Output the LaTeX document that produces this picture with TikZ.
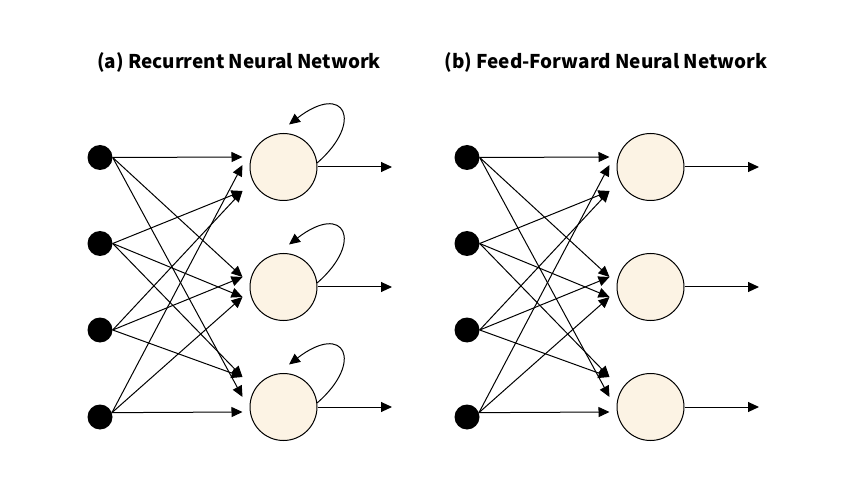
\documentclass[tikz,border=0pt]{standalone}
\usepackage{fontspec}
\setmainfont{Noto Sans CJK SC}
\usetikzlibrary{arrows.meta}
\definecolor{cream}{HTML}{FCF3E4}

\begin{document}
\begin{tikzpicture}[x=1bp, y=-1bp,
    inp/.style={circle, fill=black, minimum size=25bp, inner sep=0pt},
    hid/.style={circle, draw=black, fill=cream, line width=1bp, minimum size=67bp, inner sep=0pt},
    arr/.style={-{Triangle[length=11bp, width=10bp]}, line width=1bp},
    ttl/.style={font=\bfseries\fontsize{19}{22}\selectfont}]

    \useasboundingbox (0,0) rectangle (844,485);

    \node[ttl] (ttla) at (239,62) {(a) Recurrent Neural Network};
    \node[ttl] (ttlb) at (606,62) {(b) Feed-Forward Neural Network};

    \foreach \p/\dx in {a/0, b/367} {
        % input layer
        \foreach \i/\y in {1/157.5, 2/243.5, 3/330, 4/417}
            \node[inp] (\p in\i) at (100+\dx,\y) {};
        % hidden layer and outputs
        \foreach \j/\y in {1/167, 2/287, 3/407} {
            \node[hid] (\p hid\j) at (283.5+\dx,\y) {};
            \coordinate (\p out\j) at (392+\dx,\y);
            \draw[arr] (\p hid\j.east) -- (\p out\j);
        }
        % weights
        \foreach \i/\j/\dy/\a in {1/1/-10/0, 2/1/24/0, 3/1/24/0, 4/1/-2/20,
                                  1/2/-10/0, 2/2/10/0, 3/2/-10/0, 4/2/10/20,
                                  1/3/-10/0, 2/3/-30/0, 3/3/-30/0, 4/3/5/20} {
            \path (\p hid\j.west) ++(-7,\dy) coordinate (\p e\i\j);
            \draw[arr] (\p in\i.\a) -- (\p e\i\j);
        }
    }

    % recurrent loops
    \foreach \j in {1,2,3}
        \draw[arr] (ahid\j.7) .. controls +(47,-41) and +(56,-43) .. ([shift={(5.5,-8.5)}]ahid\j.north);

\end{tikzpicture}
\end{document}
